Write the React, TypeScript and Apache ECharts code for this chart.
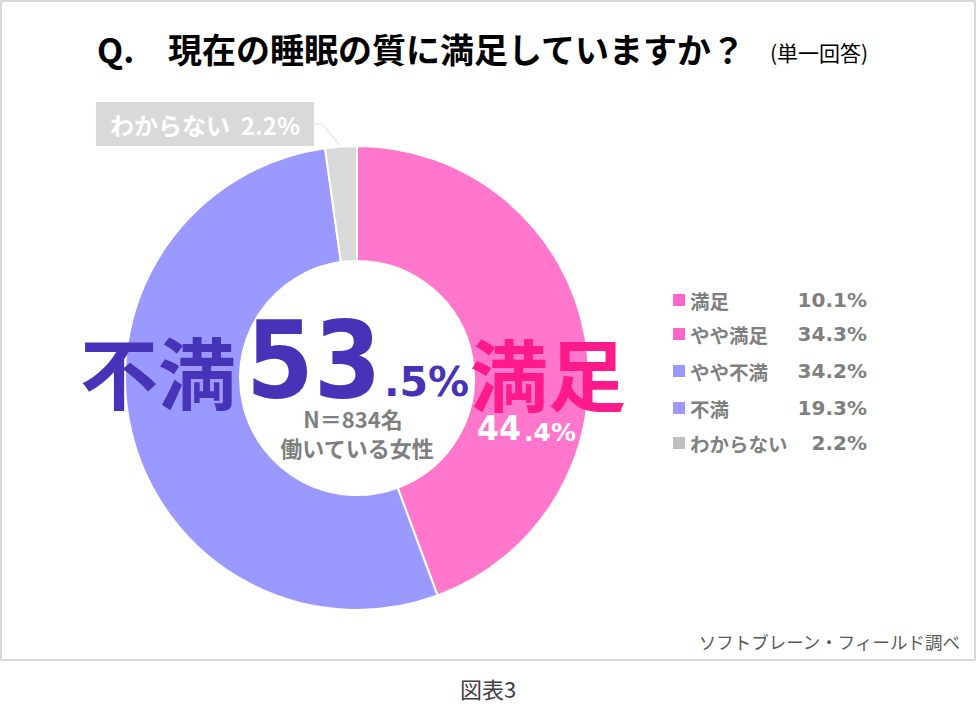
import React, { useEffect, useRef } from "react";
import * as echarts from "echarts";

const sliceNames = ["満足", "不満", "わからない"];
const sliceValues = [44.4, 53.5, 2.2];
const sliceColors = ["#ff77cc", "#9999ff", "#d9d9d9"];

const legendNames = ["満足", "やや満足", "やや不満", "不満", "わからない"];
const legendValues = [10.1, 34.3, 34.2, 19.3, 2.2];
const legendColors = ["#ff66cc", "#ff66cc", "#9999ff", "#9999ff", "#bfbfbf"];

const titleText = "現在の睡眠の質に満足していますか？";
const sampleText = ["N＝834名", "働いている女性"];
const sourceText = "ソフトブレーン・フィールド調べ";
const captionText = "図表3";

const FONT = "'Noto Sans CJK JP', 'Noto Sans', sans-serif";
const NUMFONT = "'DejaVu Sans', sans-serif";

export default function App() {
  const ref = useRef<HTMLDivElement>(null);
  useEffect(() => {
    if (!ref.current) return;
    const chart = echarts.init(ref.current, null, { renderer: "svg" });
    const dis = sliceValues[1].toFixed(1).split(".");
    const sat = sliceValues[0].toFixed(1).split(".");
    const legendRows = [300, 334, 371, 408, 443];
    const t = (x: number, y: number, text: string, font: string, fill: string, align = "left", extra: any = {}) => ({
      type: "text",
      x,
      y,
      z: 100,
      ...extra,
      style: { text, font, fill, align, verticalAlign: "middle" },
    });
    const graphics: any[] = [
      {
        type: "rect",
        z: 100,
        shape: { x: 1, y: 1, width: 974, height: 659 },
        style: { fill: "none", stroke: "#d9d9d9", lineWidth: 2 },
        silent: true,
      },
      t(97, 48, "Q.", `bold 34px ${FONT}`, "#000"),
      t(168, 48, titleText, `bold 34px ${FONT}`, "#000"),
      t(770, 52, "(単一回答)", `21px ${FONT}`, "#000"),
      t(80, 370, "不満", `bold 78px ${FONT}`, "#4633b8"),
      t(246, 360, dis[0], `bold 106px ${NUMFONT}`, "#4633b8", "left", { scaleX: 0.92 }),
      t(384, 382, "." + dis[1] + "%", `bold 41px ${NUMFONT}`, "#4633b8"),
      t(470, 372, "満足", `bold 78px ${FONT}`, "#ff1a8c"),
      t(477, 429, sat[0], `bold 34px ${NUMFONT}`, "#ffffff", "left", { scaleX: 0.93 }),
      t(524, 432, "." + sat[1] + "%", `bold 25px ${NUMFONT}`, "#ffffff"),
      t(353, 418, sampleText[0], `bold 22px ${FONT}`, "#7f7f7f", "center"),
      t(357, 447, sampleText[1], `bold 22px ${FONT}`, "#7f7f7f", "center"),
      t(960, 641, sourceText, `17.5px ${FONT}`, "#595959", "right"),
      t(488, 688, captionText, `22px ${FONT}`, "#404040", "center"),
    ];
    legendNames.forEach((n, i) => {
      const y = legendRows[i];
      graphics.push({
        type: "rect",
        z: 100,
        shape: { x: 673, y: y - 6, width: 12, height: 12 },
        style: { fill: legendColors[i] },
      });
      graphics.push(t(690, y, n, `bold 19.5px ${FONT}`, "#7f7f7f"));
      graphics.push(t(867, y, legendValues[i].toFixed(1) + "%", `bold 20px ${NUMFONT}`, "#7f7f7f", "right"));
    });

    chart.setOption({
      animation: false,
      backgroundColor: "#ffffff",
      series: [
        {
          type: "pie",
          z: 1,
          center: [357, 378],
          radius: [117, 232],
          startAngle: 90,
          clockwise: true,
          silent: true,
          itemStyle: { borderColor: "#ffffff", borderWidth: 2 },
          data: sliceNames.map((n, i) => ({
            name: n,
            value: sliceValues[i],
            itemStyle: { color: sliceColors[i] },
            label: { show: i === 2 },
            labelLine: { show: i === 2 },
          })),
          label: {
            formatter: (p: any) => `${p.name}  ${p.value.toFixed(1)}%`,
            backgroundColor: "#d9d9d9",
            color: "#ffffff",
            fontFamily: FONT,
            fontWeight: "bold",
            fontSize: 24,
            padding: [10, 14],
          },
          labelLine: { lineStyle: { color: "#d9d9d9", width: 1 }, length: 8, length2: 8 },
          labelLayout: (p: any) =>
            p.dataIndex === 2 ? { x: 205, y: 124, align: "center", verticalAlign: "middle" } : {},
        },
      ],
      graphic: graphics,
    });
    return () => chart.dispose();
  }, []);
  return <div ref={ref} style={{ position: "absolute", left: 0, top: 0, width: 977, height: 716 }} />;
}
